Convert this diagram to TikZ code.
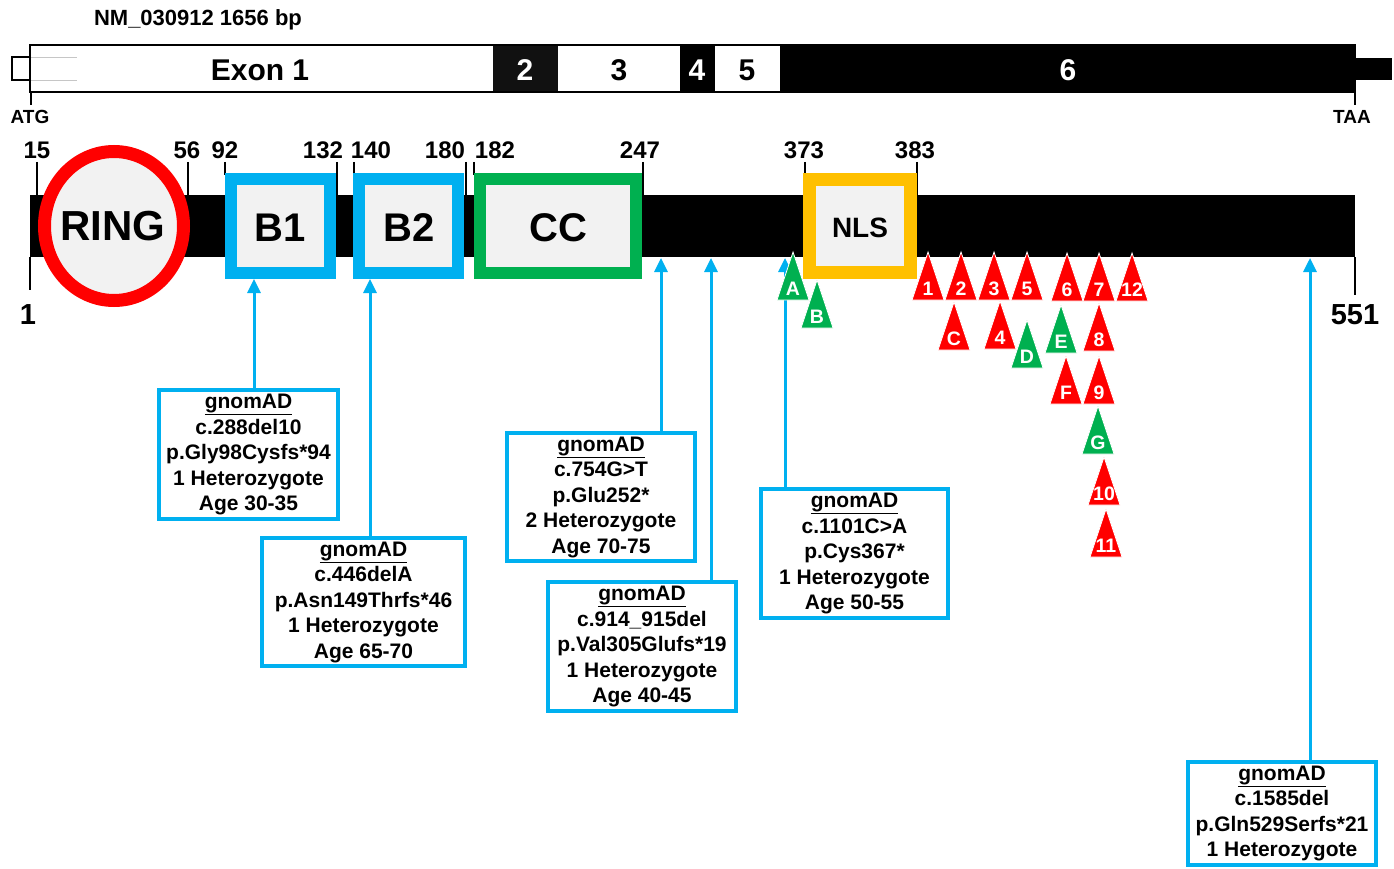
\documentclass[tikz,border=0pt]{standalone}
\usepackage{fontspec}
\setmainfont{Liberation Sans}
\usetikzlibrary{arrows.meta}
\definecolor{cred}{HTML}{FF0000}
\definecolor{cblue}{HTML}{00B0F0}
\definecolor{cgreen}{HTML}{00B050}
\definecolor{corange}{HTML}{FFC000}
\definecolor{cgray}{HTML}{F2F2F2}
\definecolor{cdark}{HTML}{111111}
\newcommand{\fsz}[1]{\fontsize{#1}{#1}\selectfont\bfseries}
\newcommand{\mytri}[5]{%
  \fill[#4, draw=white, line width=0.8pt] (#2,#3) -- ++(-16,48) -- ++(32,0) -- cycle;
  \node[tril] (#1) at (#2,#3+37) {#5};}
\begin{document}
\begin{tikzpicture}[x=1pt,y=-1pt,
  tril/.style={text=white, font=\fsz{19.5}, inner sep=0pt},
  numl/.style={font=\fsz{24}, inner sep=0pt},
  exl/.style={font=\fsz{30}, inner sep=0pt},
  tick/.style={line width=1.5pt},
  dombox/.style={line width=12pt, fill=cgray},
  domlab/.style={font=\fsz{40}, inner sep=0pt},
  gbox/.style={draw=cblue, line width=4pt, fill=white, align=center, inner sep=0pt,
    font=\fontsize{21}{25.5}\selectfont\bfseries},
  barr/.style={draw=cblue, line width=3pt, -{Triangle[width=13pt,length=14pt]}},
]
\useasboundingbox (0,0) rectangle (1394,869);
\fill[white] (0,0) rectangle (1394,869);

% title
\node[font=\fsz{22}, inner sep=0pt] (title) at (198,20) {NM\_030912 1656 bp};

% transcript bar
\fill[black] (1355,58) rectangle (1392,80);
\fill[white] (30,45) rectangle (493,92);
\fill[cdark] (493,45) rectangle (558,92);
\fill[white] (558,45) rectangle (680,92);
\fill[black] (680,45) rectangle (715,92);
\fill[white] (715,45) rectangle (780,92);
\fill[black] (780,45) rectangle (1355,92);
\draw[gray!45, line width=0.8pt] (30,57) -- (77,57) (30,80) -- (77,80);
\draw[line width=1.2pt] (30,57) -- (12,57) -- (12,80) -- (30,80);
\draw[line width=2pt] (30,45) rectangle (1355,92);
\draw[line width=1.5pt] (31,92) -- (31,105);
\draw[line width=1.5pt] (1355,92) -- (1355,105);
\node[exl] (ex1) at (260,70) {Exon 1};
\node[exl, text=white] (ex2) at (525,70) {2};
\node[exl] (ex3) at (619,70) {3};
\node[exl, text=white] (ex4) at (697,70) {4};
\node[exl] (ex5) at (747,70) {5};
\node[exl, text=white] (ex6) at (1068,70) {6};
\node[font=\fsz{19}, inner sep=0pt] (atg) at (30,117) {ATG};
\node[font=\fsz{19}, inner sep=0pt] (taa) at (1352,117) {TAA};

% protein bar
\fill[black] (30,195) rectangle (1355,257);
\draw[tick] (30,257) -- (30,290);
\draw[tick] (1355,257) -- (1355,295);
\node[font=\fsz{29}, inner sep=0pt] (p1) at (28,315) {1};
\node[font=\fsz{29}, inner sep=0pt] (p551) at (1355,315) {551};

% ticks and numbers
\draw[tick] (37,162) -- (37,195);
\draw[tick] (188,162) -- (188,195);
\draw[tick] (225,162) -- (225,175);
\draw[tick] (337,162) -- (337,195);
\draw[tick] (354,162) -- (354,175);
\draw[tick] (466,162) -- (466,195);
\draw[tick] (474,162) -- (474,175);
\draw[tick] (643,162) -- (643,195);
\draw[tick] (805,162) -- (805,175);
\draw[tick] (917,162) -- (917,195);
\node[numl] (n15) at (37,150) {15};
\node[numl] (n56) at (187,150) {56};
\node[numl] (n92) at (225,150) {92};
\node[numl] (n132) at (323,150) {132};
\node[numl] (n140) at (371,150) {140};
\node[numl] (n180) at (445,150) {180};
\node[numl] (n182) at (495,150) {182};
\node[numl] (n247) at (640,150) {247};
\node[numl] (n373) at (804,150) {373};
\node[numl] (n383) at (915,150) {383};

% domains
\draw[cred, line width=13pt, fill=cgray] (114,226) ellipse [x radius=69.5, y radius=74.5];
\node[domlab, font=\fsz{42}] (ring) at (113,226) {RING};
\draw[cblue, dombox] (231,179) rectangle (330,273);
\node[domlab] (b1) at (280,228) {B1};
\draw[cblue, dombox] (359,179) rectangle (458,273);
\node[domlab] (b2) at (409,228) {B2};
\draw[cgreen, dombox] (480,179) rectangle (636,273);
\node[domlab] (cc) at (558,228) {CC};
\draw[corange, dombox, line width=13pt] (809.5,179.5) rectangle (910.5,272.5);
\node[domlab, font=\fsz{28}] (nls) at (860,228) {NLS};

% gnomAD boxes
\node[gbox, minimum width=179pt, minimum height=129pt] (g1) at (248.5,454.5)
  {\underline{gnomAD}\\c.288del10\\p.Gly98Cysfs*94\\1 Heterozygote\\Age 30-35};
\node[gbox, minimum width=203pt, minimum height=128pt] (g2) at (363.5,602)
  {\underline{gnomAD}\\c.446delA\\p.Asn149Thrfs*46\\1 Heterozygote\\Age 65-70};
\node[gbox, minimum width=188pt, minimum height=128pt] (g3) at (601,497)
  {\underline{gnomAD}\\c.754G>T\\p.Glu252*\\2 Heterozygote\\Age 70-75};
\node[gbox, minimum width=188pt, minimum height=129pt] (g4) at (642,646.5)
  {\underline{gnomAD}\\c.914\_915del\\p.Val305Glufs*19\\1 Heterozygote\\Age 40-45};
\node[gbox, minimum width=187pt, minimum height=129pt] (g5) at (854.5,553.5)
  {\underline{gnomAD}\\c.1101C>A\\p.Cys367*\\1 Heterozygote\\Age 50-55};
\node[gbox, minimum width=188pt, minimum height=103pt] (g6) at (1282,813.5)
  {\underline{gnomAD}\\c.1585del\\p.Gln529Serfs*21\\1 Heterozygote};

% arrows
\coordinate (t1) at (254,279);
\coordinate (t2) at (370,279);
\coordinate (t3) at (661,258);
\coordinate (t4) at (711,258);
\coordinate (t5) at (785,258);
\coordinate (t6) at (1310,258);
\draw[barr] (g1.north -| t1) -- (t1);
\draw[barr] (g2.north -| t2) -- (t2);
\draw[barr] (g3.north -| t3) -- (t3);
\draw[barr] (g4.north -| t4) -- (t4);
\draw[barr] (g5.north -| t5) -- (t5);
\draw[barr] (g6.north -| t6) -- (t6);

% triangles
\mytri{trA}{793}{252}{cgreen}{A}
\mytri{trB}{817}{280}{cgreen}{B}
\mytri{tr1}{928}{252}{cred}{1}
\mytri{tr2}{961}{252}{cred}{2}
\mytri{tr3}{994}{252}{cred}{3}
\mytri{tr5}{1027}{252}{cred}{5}
\mytri{tr6}{1067}{253}{cred}{6}
\mytri{tr7}{1099}{253}{cred}{7}
\mytri{tr12}{1132}{253}{cred}{12}
\mytri{trC}{954}{302}{cred}{C}
\mytri{tr4}{1000}{301}{cred}{4}
\mytri{trD}{1027}{320}{cgreen}{D}
\mytri{trE}{1061}{305}{cgreen}{E}
\mytri{tr8}{1099}{303}{cred}{8}
\mytri{trF}{1066}{356}{cred}{F}
\mytri{tr9}{1099}{356}{cred}{9}
\mytri{trG}{1098}{406}{cgreen}{G}
\mytri{tr10}{1104}{457}{cred}{10}
\mytri{tr11}{1106}{509}{cred}{11}
\end{tikzpicture}
\end{document}
